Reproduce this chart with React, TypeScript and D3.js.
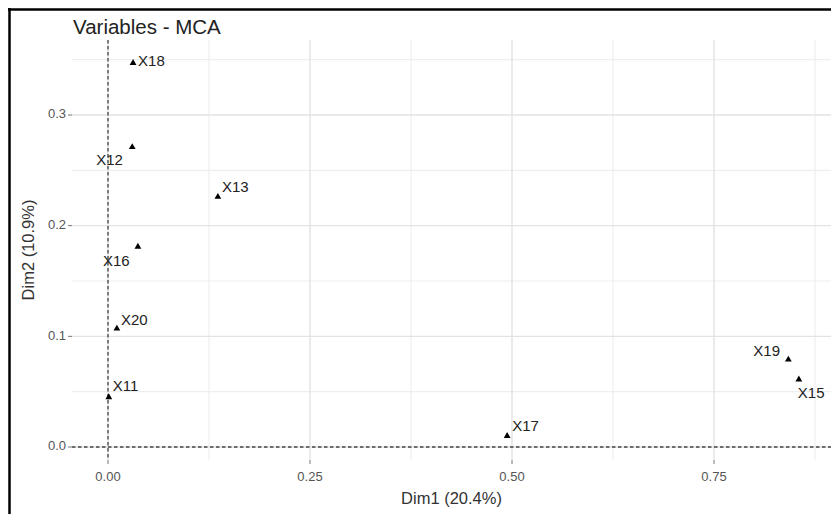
import React from "react";
import * as d3 from "d3";

const labels = ["X18", "X12", "X13", "X16", "X20", "X11", "X17", "X19", "X15"];
const dim1 = [0.031, 0.030, 0.136, 0.037, 0.011, 0.001, 0.494, 0.842, 0.855];
const dim2 = [0.347, 0.271, 0.226, 0.181, 0.107, 0.045, 0.010, 0.079, 0.061];
// label offsets (px) from point, as placed by the repel algorithm
const labelDx = [5, -36, 4, -35, 4, 4, 5, -35, -1];
const labelDy = [-1, 14, -9, 15, -8, -10, -9, -8, 15];

const xTicks = [0, 0.25, 0.5, 0.75];
const xMinor = [0.125, 0.375, 0.625, 0.875];
const yTicks = [0, 0.1, 0.2, 0.3];
const yMinor = [0.05, 0.15, 0.25, 0.35];

const W = 831;
const H = 514;
const panel = { left: 72, right: 831, top: 40, bottom: 460 };

export default function App() {
  const x = d3.scaleLinear().domain([0, 0.75]).range([108, 714]);
  const y = d3.scaleLinear().domain([0, 0.3]).range([447, 115]);
  const tri = d3.symbol(d3.symbolTriangle).size(20)() as string;
  const font = "Liberation Sans, Arial, sans-serif";

  return (
    <div style={{ position: "absolute", left: 0, top: 0 }}>
      <svg width={W} height={H} style={{ display: "block", background: "#fff" }}>
        <rect x={0} y={0} width={W} height={H} fill="#fff" />
        {/* minor grid */}
        {xMinor.map((t) => (
          <line key={"xm" + t} x1={x(t)} x2={x(t)} y1={panel.top} y2={panel.bottom} stroke="#eeeeee" strokeWidth={1.2} />
        ))}
        {yMinor.map((t) => (
          <line key={"ym" + t} x1={panel.left} x2={panel.right} y1={y(t)} y2={y(t)} stroke="#eeeeee" strokeWidth={1.2} />
        ))}
        {/* major grid */}
        {xTicks.map((t) => (
          <line key={"xg" + t} x1={x(t)} x2={x(t)} y1={panel.top} y2={panel.bottom} stroke="#e3e3e3" strokeWidth={1.4} />
        ))}
        {yTicks.map((t) => (
          <line key={"yg" + t} x1={panel.left} x2={panel.right} y1={y(t)} y2={y(t)} stroke="#e3e3e3" strokeWidth={1.4} />
        ))}
        {/* zero lines */}
        <line x1={x(0)} x2={x(0)} y1={panel.top} y2={panel.bottom} stroke="#444" strokeWidth={1.3} strokeDasharray="3.5,2.5" />
        <line x1={panel.left} x2={panel.right} y1={y(0)} y2={y(0)} stroke="#444" strokeWidth={1.3} strokeDasharray="3.5,2.5" />
        {/* ticks */}
        {xTicks.map((t) => (
          <g key={"xt" + t}>
            <line x1={x(t)} x2={x(t)} y1={panel.bottom} y2={panel.bottom + 4} stroke="#777" strokeWidth={1} />
            <text x={x(t)} y={478} textAnchor="middle" dominantBaseline="middle" fontSize={13} fill="#555" fontFamily={font}>
              {t.toFixed(2)}
            </text>
          </g>
        ))}
        {yTicks.map((t) => (
          <g key={"yt" + t}>
            <line x1={panel.left - 4} x2={panel.left} y1={y(t)} y2={y(t)} stroke="#777" strokeWidth={1} />
            <text x={panel.left - 6} y={y(t)} textAnchor="end" dominantBaseline="middle" fontSize={13} fill="#555" fontFamily={font}>
              {t.toFixed(1)}
            </text>
          </g>
        ))}
        {/* points */}
        {labels.map((l, i) => (
          <g key={l}>
            <path d={tri} transform={`translate(${x(dim1[i])},${y(dim2[i])})`} fill="#000" />
            <text
              x={x(dim1[i]) + labelDx[i]}
              y={y(dim2[i]) + labelDy[i]}
              dominantBaseline="middle"
              fontSize={15}
              fill="#222"
              fontFamily={font}
            >
              {l}
            </text>
          </g>
        ))}
        {/* axis titles */}
        <text x={(panel.left + panel.right) / 2} y={500} textAnchor="middle" dominantBaseline="middle" fontSize={16.5} fill="#333" fontFamily={font}>
          Dim1 (20.4%)
        </text>
        <text
          transform={`translate(30,${(panel.top + panel.bottom) / 2}) rotate(-90)`}
          textAnchor="middle"
          dominantBaseline="middle"
          fontSize={16.5}
          fill="#333"
          fontFamily={font}
        >
          Dim2 (10.9%)
        </text>
        <text x={73} y={29} dominantBaseline="middle" fontSize={20.5} fill="#222" fontFamily={font}>
          Variables - MCA
        </text>
        {/* frame borders */}
        <line x1={8} x2={W} y1={9.5} y2={9.5} stroke="#000" strokeWidth={2.5} />
        <line x1={9.5} x2={9.5} y1={8} y2={H} stroke="#000" strokeWidth={2.5} />
      </svg>
    </div>
  );
}
